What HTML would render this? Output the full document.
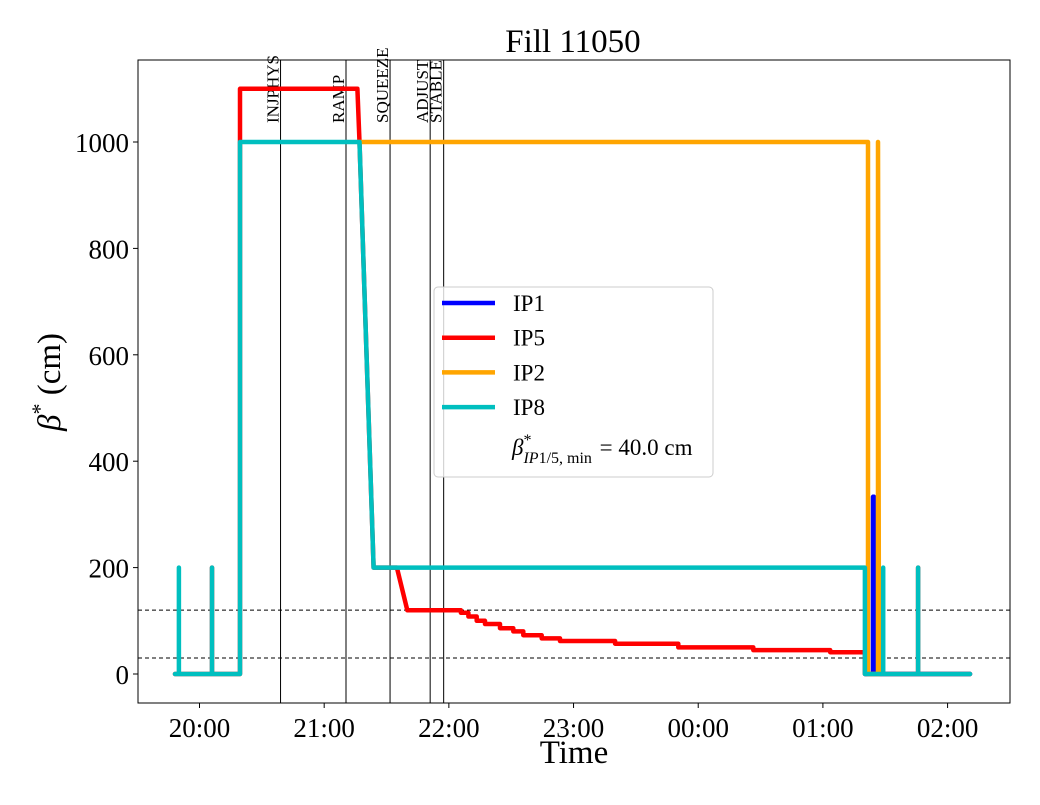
<!DOCTYPE html>
<html><head><meta charset="utf-8"><style>
body{margin:0;background:#fff;}
svg text{font-family:"Liberation Serif",serif;}
</style></head><body>
<svg id="chart" width="1040" height="800" xmlns="http://www.w3.org/2000/svg">
<rect width="1040" height="800" fill="#fff"/>
<text x="573" y="52" font-size="33" text-anchor="middle">Fill 11050</text>
<g id="plot"></g>
<text x="574" y="763" font-size="33" text-anchor="middle">Time</text>
<text transform="translate(60,382) rotate(-90)" font-size="33" text-anchor="middle"><tspan font-style="italic">β</tspan><tspan dy="-13" font-size="22">*</tspan><tspan dy="13"> (cm)</tspan></text>
</svg>
<script>
// times are minutes after 20:00
const xTickLabels = ["20:00","21:00","22:00","23:00","00:00","01:00","02:00"];
const xTickMinutes = [0,60,120,180,240,300,360];
const yTicks = [0,200,400,600,800,1000];
const modeNames = ["INJPHYS","RAMP","SQUEEZE","ADJUST","STABLE"];
const modeTimes = [39,70.5,91.7,111,117.5];
const hLines = [120,30];
const ip5T = [-11.8,6,6,6,19.5,19.5,76,77,83.8,95,100,125.8,125.8,129.4,129.4,133.4,133.4,137.4,137.4,144.6,144.6,151,151,155.8,155.8,164.7,164.7,173.5,173.5,200,200,230.4,230.4,266.5,266.5,303.5,303.5,320.2,320.2,345.8,345.8,345.8,370.8];
const ip5V = [0,0,200,0,0,1100,1100,1000,200,200,120,120,115,115,108,108,100,100,94,94,86,86,80,80,73,73,67,67,62,62,57,57,50,50,45,45,41,41,0,0,200,0,0];
const ip1T = [320.5,324.1,324.1,324.6,324.6,370.8];
const ip1V = [0,0,333,333,0,0];
const ip2T = [76.3,321.7,321.7,326.5,326.5,327];
const ip2V = [1000,1000,0,0,1000,0];
const ip8T = [-11.8,-9.9,-9.9,-9.9,6,6,6,19.5,19.5,77,83.8,320.2,320.2,329,329,329,345.8,345.8,345.8,370.8];
const ip8V = [0,0,200,0,0,200,0,0,1000,1000,200,200,0,0,200,0,0,200,0,0];

const L=138,R=1010,T=60,B=703;
const xs=m=>199.5+m*2.078;
const ys=v=>674-v*0.532;
const NS="http://www.w3.org/2000/svg";
const g=document.getElementById('plot');
function el(tag,attrs,parent){const e=document.createElementNS(NS,tag);for(const k in attrs)e.setAttribute(k,attrs[k]);(parent||g).appendChild(e);return e;}

hLines.forEach(v=>{
  const l=el('line',{x1:L,x2:R,y1:ys(v),y2:ys(v),stroke:'#000','stroke-width':1,'stroke-dasharray':'4,3'});
  
  
});
modeNames.forEach((n,i)=>{
  const x=xs(modeTimes[i]);
  const l=el('line',{x1:x,x2:x,y1:T,y2:B,stroke:'#000','stroke-width':1});
  
  
  const t=el('text',{transform:`translate(${x-2},123) rotate(-90)`,'font-size':17});
  t.textContent=n;
  
  
});
function series(tArr,vArr,color,name){
  const pts=tArr.map((t,i)=>xs(t).toFixed(1)+','+ys(vArr[i]).toFixed(1)).join(' ');
  const p=el('polyline',{points:pts,fill:'none',stroke:color,'stroke-width':4.5,'stroke-linejoin':'round','stroke-linecap':'round'});
  
  
}
series(ip1T,ip1V,'#0000ff','ip1');
series(ip5T,ip5V,'#ff0000','ip5');
series(ip2T,ip2V,'#ffa500','ip2');
series(ip8T,ip8V,'#00bfbf','ip8');

const frame=el('rect',{x:L,y:T,width:R-L,height:B-T,fill:'none',stroke:'#000','stroke-width':1});



xTickMinutes.forEach((m,i)=>{
  const x=xs(m);
  el('line',{x1:x,x2:x,y1:B,y2:B+5,stroke:'#000'});
  const t=el('text',{x:x,y:B+34,'font-size':27,'text-anchor':'middle'});
  t.textContent=xTickLabels[i];
  
  
});
yTicks.forEach(v=>{
  const y=ys(v);
  el('line',{x1:L-5,x2:L,y1:y,y2:y,stroke:'#000'});
  const t=el('text',{x:L-9,y:y+10,'font-size':27,'text-anchor':'end'});
  t.textContent=v;
  
  
});

// legend
const lg=el('g',{});


el('rect',{x:434,y:287,width:279,height:190,rx:4,fill:'#fff','fill-opacity':0.8,stroke:'#ccc'},lg);
const legNames=['IP1','IP5','IP2','IP8'];
const legColors=['#0000ff','#ff0000','#ffa500','#00bfbf'];
legNames.forEach((n,i)=>{
  const y=303+i*34.7;
  el('line',{x1:442,x2:495,y1:y,y2:y,stroke:legColors[i],'stroke-width':4.5},lg);
  const t=el('text',{x:513,y:y+8,'font-size':23},lg);
  t.textContent=n;
  
  
});
const lt=el('text',{x:512,y:455,'font-size':23},lg);
lt.innerHTML='<tspan font-style="italic">β</tspan><tspan dy="-10" font-size="16">*</tspan><tspan dx="-8" dy="18" font-size="16"><tspan font-style="italic">IP</tspan>1/5, min</tspan><tspan dy="-8" dx="2"> = 40.0 cm</tspan>';


</script>
</body></html>
